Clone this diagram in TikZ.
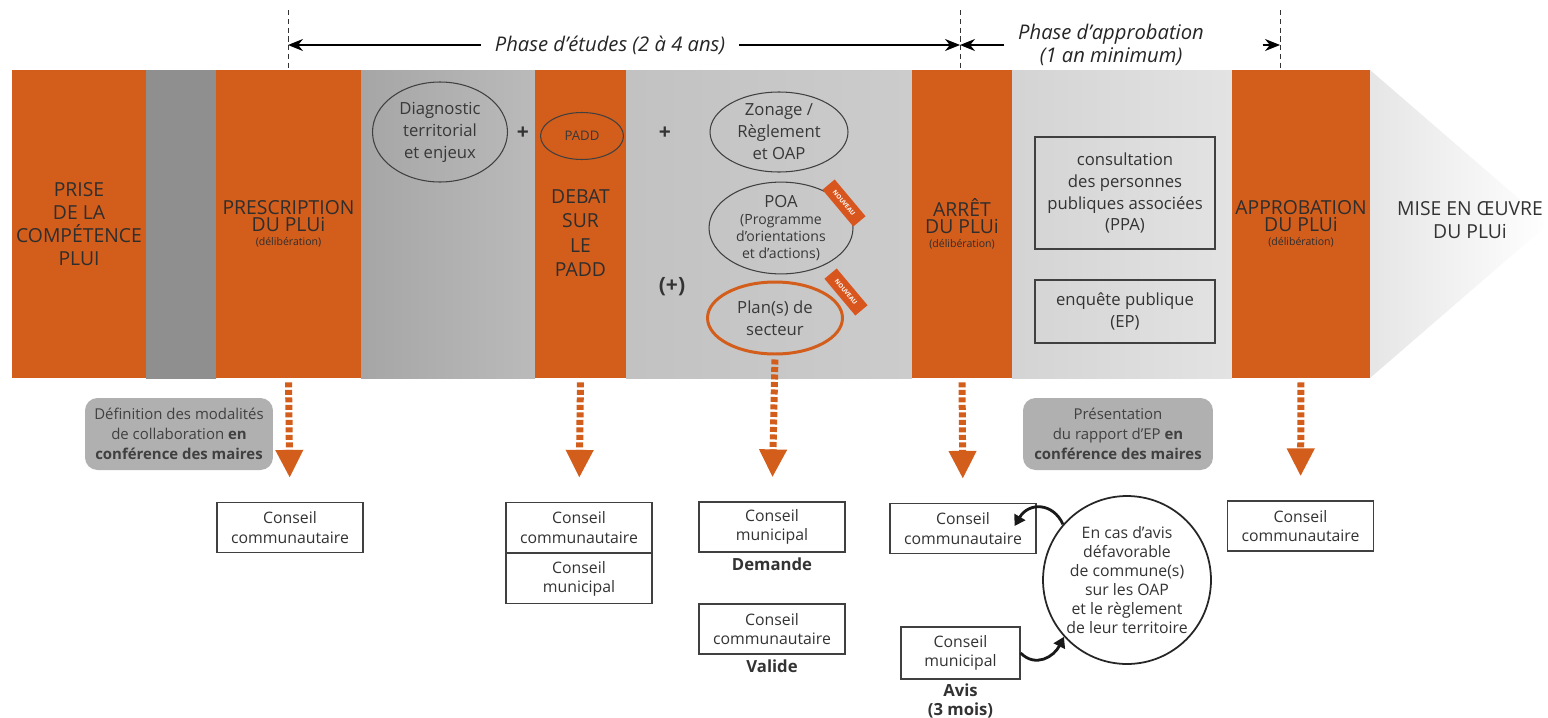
\documentclass[tikz,border=0pt]{standalone}
\usepackage{fontspec}
\setmainfont{Open Sans}
\usepackage{tikz}
\usetikzlibrary{arrows.meta,shapes.geometric,positioning}
\definecolor{plorange}{RGB}{211,93,27}
\definecolor{tagorange}{RGB}{216,86,30}
\definecolor{notegray}{RGB}{176,176,176}
\newcommand{\fs}[2]{\fontsize{#1}{#2}\selectfont}
\newcommand{\graybar}[4]{\shade[left color=#3,right color=#4] (#1,70) rectangle (#2,378);}
\newcommand{\delib}{{\fs{6}{7}(délibération)}}
\tikzset{
  block/.style={fill=plorange, minimum width=#1, minimum height=6.16cm, inner sep=0pt,
    align=center, text=black!82, font=\fs{11}{13}},
  bubble/.style={ellipse, draw=black!75, line width=0.6pt, inner sep=0pt, align=center,
    text=black!78, font=\fs{9.5}{12.5}},
  plus/.style={font=\fs{12}{14}\bfseries, text=black!80},
  tag/.style={fill=tagorange, text=white, font=\fs{3.5}{4}\bfseries, rotate=-50,
    minimum width=0.96cm, minimum height=0.32cm, inner sep=0pt},
  panel/.style={draw=black!75, line width=0.8pt, align=center, text=black!80,
    font=\fs{9.5}{12.5}, inner sep=0pt, minimum width=3.6cm},
  phase/.style={font=\fs{11.5}{13.5}\itshape, text=black!85, inner sep=0.27cm},
  phaseline/.style={densely dashed, line width=0.5pt, black!80},
  phasearrow/.style={line width=0.8pt, -{Stealth[length=0.3cm,width=0.24cm]}},
  orarrow/.style={plorange, line width=0.14cm, dash pattern=on 0.1cm off 0.05cm,
    -{Triangle[width=0.52cm,length=0.56cm]}, shorten <=0.08cm, shorten >=0.48cm},
  note/.style={fill=notegray, rounded corners=0.25cm, align=center, text=black!75,
    font=\fs{8.5}{11.3}, minimum height=1.44cm, inner sep=0pt},
  council/.style={draw=black!75, line width=0.7pt, align=center, text=black!80,
    font=\fs{9}{11}, minimum width=2.92cm, minimum height=1.0cm, inner sep=0pt},
  verdict/.style={font=\fs{9.5}{11}\bfseries, text=black!80, align=center, inner sep=0pt},
  backarrow/.style={line width=1.6pt, black!90, -{Triangle[width=7pt,length=6pt]}}
}

\begin{document}
\begin{tikzpicture}[x=0.02cm,y=-0.02cm]
\fill[white] (0,0) rectangle (1548,717);
\useasboundingbox (0,0) rectangle (1548,717);
\graybar{146}{216}{black!44}{black!44}
\graybar{361}{535}{black!35}{black!27}
\graybar{626}{912}{black!24}{black!20}
\graybar{1012}{1232}{black!17}{black!11}
\shade[left color=black!10,right color=white] (1370,70) -- (1548,224) -- (1370,378) -- cycle;
\node[block=2.68cm] (prise) at (79,224) {PRISE\\DE LA\\COMPÉTENCE\\PLUI};
\node[block=2.9cm] (presc) at (288.5,224) {PRESCRIPTION\\[-3pt]DU PLUi\\[-5pt]\delib};
\node[block=1.82cm] (debat) at (580.5,224) {};
\node[align=center, text=black!82, font=\fs{11}{14}] (debattxt) at (580.5,233) {DEBAT\\SUR\\LE\\PADD};
\node[block=2cm] (arret) at (962,224) {ARRÊT\\[-3pt]DU PLUi\\[-5pt]\delib};
\node[block=2.76cm] (approb) at (1301,224) {APPROBATION\\[-3pt]DU PLUi\\[-5pt]\delib};
\node[align=center, text=black!80, font=\fs{11}{13}] (mise) at (1470,220) {MISE EN ŒUVRE\\DU PLUi};
\node[bubble, minimum width=2.7cm, minimum height=2cm] (diag) at (440,132) {Diagnostic\\territorial\\et enjeux};
\node[plus] (plusa) at (523,133) {+};
\node[bubble, fill=plorange, minimum width=1.66cm, minimum height=0.94cm, font=\fs{7.5}{9}] (padd) at (582,136) {PADD};
\node[plus] (plusb) at (665,133) {+};
\node[plus] (plusc) at (672,287) {(+)};
\node[bubble, minimum width=2.76cm, minimum height=1.6cm] (zonage) at (779,132) {Zonage /\\Règlement\\et OAP};
\node[bubble, minimum width=2.88cm, minimum height=1.6cm, font=\fs{8}{9.6}] (poa) at (781,228) {{\fs{9.5}{10}POA}\\(Programme\\d'orientations\\et d'actions)};
\node[bubble, draw=plorange, line width=1.7pt, minimum width=2.7cm, minimum height=1.44cm] (plan) at (775,318) {Plan(s) de\\secteur};
\node[tag] (newa) at (844,203) {NOUVEAU};
\node[tag] (newb) at (846,292) {NOUVEAU};
\node[panel, minimum height=2.24cm] (ppa) at (1125,193) {consultation\\des personnes\\publiques associées\\(PPA)};
\node[panel, minimum height=1.26cm] (ep) at (1125,311.5) {enquête publique\\(EP)};
\coordinate (da) at (288,10);
\coordinate (db) at (960,10);
\coordinate (dc) at (1280,10);
\foreach \d in {da,db,dc} \draw[phaseline] (\d) -- (\d |- prise.north);
\node[phase] (etudes) at (610,45) {Phase d'études (2 à 4 ans)};
\draw[phasearrow] (etudes.west) -- (etudes.west -| da);
\draw[phasearrow] (etudes.east) -- (etudes.east -| db);
\node[phase, align=center] (apptxt) at (1111,45) {Phase d'approbation\\(1 an minimum)};
\draw[phasearrow] (apptxt.west) -- (apptxt.west -| db);
\draw[phasearrow, shorten <=0.9cm] (apptxt.east) -- (apptxt.east -| dc);
\node[note, minimum width=3.76cm] (modal) at (179,434) {Définition des modalités\\de collaboration \textbf{en}\\\textbf{conférence des maires}};
\node[note, minimum width=3.8cm] (rapport) at (1118,434) {Présentation\\du rapport d'EP \textbf{en}\\\textbf{conférence des maires}};
\node[council] (cca) at (290,527.5) {Conseil\\communautaire};
\node[council] (ccb) at (579,527.5) {Conseil\\communautaire};
\node[council, below=0pt of ccb] (cmb) {Conseil\\municipal};
\node[council] (cmc) at (772,527) {Conseil\\municipal};
\node[verdict, below=2.5pt of cmc] (demande) {Demande};
\node[council] (ccc) at (772,629) {Conseil\\communautaire};
\node[verdict, below=2.5pt of ccc] (valide) {Valide};
\node[council] (ccd) at (963,528.5) {Conseil\\communautaire};
\node[council, minimum width=2.38cm, minimum height=1.04cm] (cmd) at (960.5,653) {Conseil\\municipal};
\node[verdict, below=2pt of cmd] (avis) {Avis\\(3 mois)};
\node[council] (cce) at (1300.5,526) {Conseil\\communautaire};
\node[circle, draw=black!85, line width=1pt, minimum size=3.36cm, inner sep=0pt, align=center, font=\fs{9}{10.8}, text=black!80] (refus) at (1127,580) {En cas d'avis\\défavorable\\de commune(s)\\sur les OAP\\et le règlement\\de leur territoire};
\foreach \a/\b in {presc/cca,debat/ccb,plan/cmc,arret/ccd,approb/cce} \draw[orarrow] (\a.south) -- (\b.north);
\draw[backarrow] (refus.139) .. controls +(-10,-22) and +(14,-24) .. ([xshift=-0.44cm,yshift=0.05cm]ccd.east);
\draw[backarrow] (cmd.east) .. controls +(15,15) and +(-10,20) .. (refus.222);
\end{tikzpicture}
\end{document}
